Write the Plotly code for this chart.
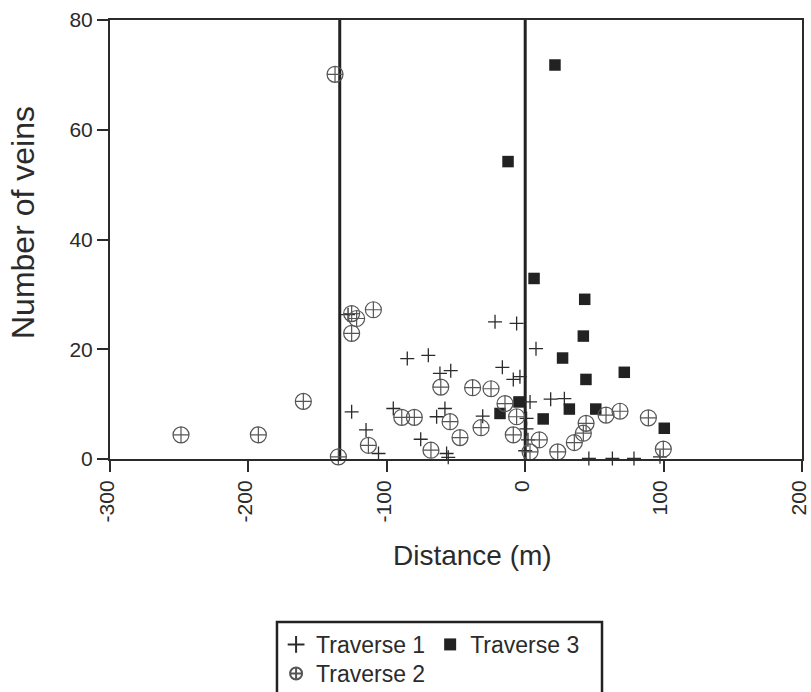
import plotly.graph_objects as go

# ---------------- data ----------------
t1_x = [-128, -125.4, -115, -106, -95.3, -85.2, -70, -64, -61.6, -58, -56.8, -55.6, -53.8,
        -75.5, -30.7, -21.8, -16.5, -8.6, -6.2, -3.8, 0, 1, 1, 2, 3.5, 7.8, 18.4, 28.3,
        46, 63, 78.6, 97.4]
t1_y = [26.3, 8.6, 5.3, 1.0, 9.2, 18.3, 18.9, 7.7, 15.6, 9.2, 1.0, 0.3, 16.1,
        3.6, 7.8, 25.0, 16.7, 14.5, 24.7, 15.0, 1.5, 7.4, 5.5, 3.5, 10.4, 20.1, 10.9, 11.0,
        0.1, 0.1, 0.1, 0.4]

t2_x = [-248.7, -192.8, -160.3, -137.4, -135, -125.4, -121.8, -125.4, -113.3, -109.7,
        -89.2, -80.1, -68.1, -61, -54.3, -47.1, -38, -31.9, -24.7, -14.6, -8.6, -6.2,
        3.5, 10.2, 23.5, 35.5, 42, 44, 58.4, 68.5, 89, 99.8]
t2_y = [4.4, 4.4, 10.5, 70.1, 0.4, 26.5, 25.6, 22.9, 2.5, 27.2,
        7.6, 7.6, 1.6, 13.1, 6.8, 3.9, 13.0, 5.7, 12.8, 10.1, 4.4, 7.7,
        1.3, 3.5, 1.3, 3.0, 4.7, 6.5, 8.0, 8.7, 7.5, 1.8]

t3_x = [21.5, -12.4, 6.4, 43, 42, 27, 71.6, 43.9, -4.5, -18.2, 31.9, 13, 51, 100.5]
t3_y = [71.8, 54.2, 32.9, 29.1, 22.4, 18.4, 15.8, 14.5, 10.4, 8.3, 9.1, 7.3, 9.1, 5.6]

boundaries = [-134, 0]          # vertical reference lines (m)
x_ticks = [-300, -200, -100, 0, 100, 200]
y_ticks = [0, 20, 40, 60, 80]

FONT = "Liberation Sans, Arial, Helvetica, sans-serif"
INK = "#2b2b2b"

fig = go.Figure()

fig.add_trace(go.Scatter(
    x=t1_x, y=t1_y, mode="markers", name="Traverse 1", legend="legend",
    marker=dict(symbol="cross-thin-open", size=10, line=dict(color=INK, width=1.3), color=INK),
    cliponaxis=False))
fig.add_trace(go.Scatter(
    x=t3_x, y=t3_y, mode="markers", name="Traverse 3", legend="legend",
    marker=dict(symbol="square", size=11.5, color="#222222", line=dict(width=0)),
    cliponaxis=False))
fig.add_trace(go.Scatter(
    x=t2_x, y=t2_y, mode="markers", name="Traverse 2", legend="legend2",
    marker=dict(symbol="circle-cross-open", size=16, line=dict(color="#555555", width=1.2),
                color="#555555"),
    cliponaxis=False))

for bx in boundaries:
    fig.add_shape(type="line", xref="x", yref="y", x0=bx, x1=bx, y0=0, y1=80,
                  line=dict(color="#222222", width=3), layer="below")

# legend frame
fig.add_shape(type="rect", xref="paper", yref="paper", x0=0.2413, x1=0.711,
              y0=-0.3713, y1=-0.56, line=dict(color="#222222", width=2.5))

axis_common = dict(showgrid=False, zeroline=False, showline=True, linecolor=INK, linewidth=2,
                   ticks="outside", ticklen=11, tickwidth=2, tickcolor=INK, mirror=True,
                   ticklabeloverflow="allow",
                   tickfont=dict(family=FONT, size=21, color=INK))

fig.update_xaxes(range=[-300, 200], tickvals=x_ticks, ticktext=[str(v) for v in x_ticks],
                 tickangle=-90, ticklabelshift=-3, **axis_common)
fig.update_yaxes(range=[0, 80], tickvals=y_ticks, ticktext=[str(v) for v in y_ticks],
                 **axis_common)

fig.add_annotation(text="Distance (m)", xref="paper", yref="paper", x=0.524, y=-0.2198,
                   showarrow=False, xanchor="center", yanchor="middle",
                   font=dict(family=FONT, size=28, color=INK))
fig.add_annotation(text="Number of veins", xref="paper", yref="paper", x=-0.1257, y=0.5376,
                   showarrow=False, xanchor="center", yanchor="middle", textangle=-90,
                   font=dict(family=FONT, size=32, color=INK))

legend_font = dict(family=FONT, size=23, color=INK)
fig.update_layout(
    width=811, height=692,
    margin=dict(l=110, r=9, t=20, b=233, autoexpand=False),
    paper_bgcolor="white", plot_bgcolor="white",
    showlegend=True,
    legend=dict(orientation="h", x=0.24, y=-0.3735, xanchor="left", yanchor="top",
                font=legend_font, bgcolor="rgba(0,0,0,0)", borderwidth=0,
                itemsizing="constant"),
    legend2=dict(orientation="h", x=0.24, y=-0.4396, xanchor="left", yanchor="top",
                 font=legend_font, bgcolor="rgba(0,0,0,0)", borderwidth=0,
                 itemsizing="constant"),
)

fig.write_html("out.html")
